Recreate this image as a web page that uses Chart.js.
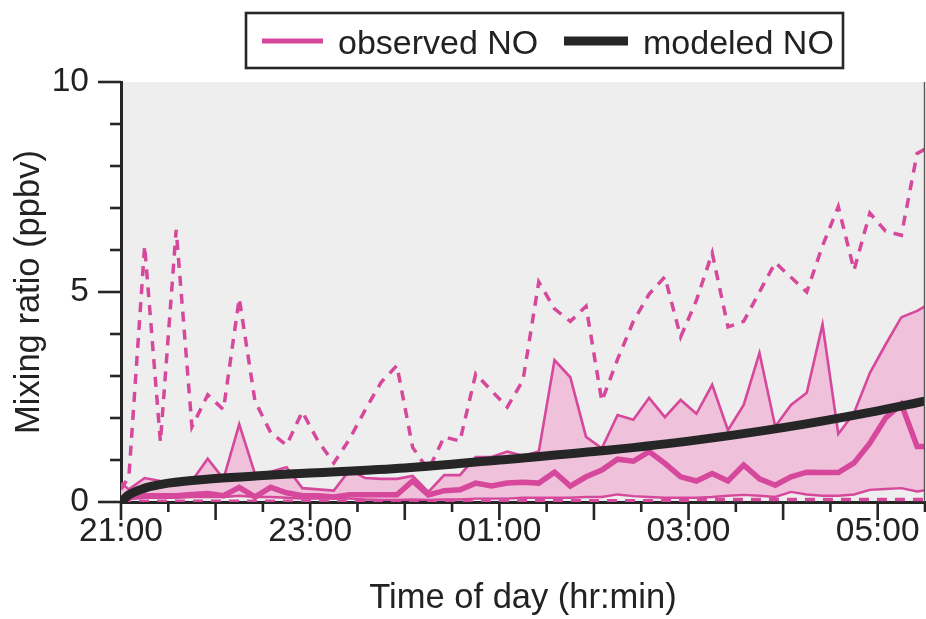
<!DOCTYPE html>
<html><head><meta charset="utf-8">
<script src="https://cdn.jsdelivr.net/npm/chart.js@4.4.1/dist/chart.umd.min.js"></script>
<style>html,body{margin:0;padding:0;background:#fff;overflow:hidden}</style>
</head><body>
<canvas id="c" width="926" height="619"></canvas>
<script>
// ---- data ----
const times = ['21:00','21:05','21:15','21:25','21:35','21:45','21:55',
 '22:05','22:15','22:25','22:35','22:45','22:55',
 '23:05','23:15','23:25','23:35','23:45','23:55',
 '00:05','00:15','00:25','00:35','00:45','00:55',
 '01:05','01:15','01:25','01:35','01:45','01:55',
 '02:05','02:15','02:25','02:35','02:45','02:55',
 '03:05','03:15','03:25','03:35','03:45','03:55',
 '04:05','04:15','04:25','04:35','04:45','04:55',
 '05:05','05:15','05:25','05:30'];
const obsUpperDashed = [0.3,0.6,6.1,1.43,6.48,1.79,2.55,2.2,4.85,2.4,1.65,1.35,2.15,1.45,0.93,1.5,2.2,2.85,3.25,1.3,0.76,1.55,1.45,3.05,2.65,2.26,2.9,5.24,4.6,4.3,4.66,2.4,3.4,4.3,4.95,5.36,3.93,4.8,5.93,4.17,4.3,5.0,5.7,5.35,5.0,6.1,7.03,5.52,6.88,6.45,6.35,8.3,8.4];
const obsUpper = [0.45,0.3,0.57,0.5,0.48,0.5,1.03,0.55,1.85,0.67,0.72,0.83,0.33,0.3,0.27,0.76,0.57,0.55,0.55,0.62,0.24,0.64,0.64,1.07,1.07,1.2,1.1,1.2,3.38,2.97,1.55,1.28,2.07,1.96,2.48,2.02,2.43,2.1,2.79,1.71,2.31,3.55,1.8,2.31,2.6,4.23,1.62,2.12,3.07,3.75,4.4,4.55,4.66];
const obsMedian = [0.05,0.1,0.15,0.15,0.15,0.18,0.2,0.15,0.35,0.12,0.35,0.22,0.15,0.15,0.12,0.17,0.17,0.17,0.17,0.5,0.17,0.27,0.29,0.45,0.38,0.45,0.47,0.45,0.71,0.38,0.6,0.76,1.02,0.97,1.2,0.92,0.6,0.5,0.68,0.5,0.88,0.55,0.4,0.6,0.71,0.7,0.7,0.93,1.4,2.0,2.33,1.32,1.32];
const obsLower = [0.05,0.08,0.1,0.1,0.1,0.12,0.12,0.12,0.15,0.12,0.12,0.1,0.08,0.08,0.08,0.08,0.06,0.05,0.05,0.06,0.05,0.06,0.06,0.08,0.08,0.08,0.1,0.1,0.1,0.1,0.12,0.12,0.18,0.14,0.12,0.1,0.1,0.1,0.12,0.15,0.17,0.15,0.12,0.24,0.18,0.15,0.15,0.18,0.29,0.31,0.33,0.25,0.28];
const obsLowerDashed = [0.02,0.02,0.02,0.02,0.02,0.02,0.02,0.02,0.02,0.02,0.02,0.02,0.02,0.02,0.02,0.02,0.02,0.02,0.02,0.02,0.02,0.02,0.02,0.02,0.02,0.02,0.03,0.03,0.03,0.03,0.03,0.03,0.03,0.03,0.03,0.03,0.03,0.06,0.06,0.06,0.06,0.06,0.06,0.06,0.06,0.06,0.06,0.06,0.06,0.06,0.06,0.06,0.06];
const modelTimes = ['21:00','21:05','21:15','21:30','22:00','22:30','23:00','00:00','01:00','02:00','03:00','04:00','05:00','05:30'];
const modelNO = [0,0.17,0.33,0.45,0.56,0.63,0.69,0.81,1.0,1.2,1.45,1.77,2.17,2.4];
const xTickLabels = ['21:00','23:00','01:00','03:00','05:00'];
const yTickValues = [0,5,10];

// ---- helpers ----
function toHours(s){ const [H,M]=s.split(':').map(Number); return (H>=21?H-21:H+3)+M/60; }
function pts(ts, vals){ return ts.map((t,i)=>({x:toHours(t), y:vals[i]})); }

const MAG = '#d5489b', FILL = '#efc1da', BLK = '#262626', BG = '#edeeed';
const FONT = '"Liberation Sans", Arial, Helvetica, sans-serif';
Chart.defaults.font.family = FONT;
Chart.defaults.color = '#222';

const decor = {
  id:'decor',
  beforeDraw(chart){
    const {ctx, chartArea:a} = chart;
    ctx.save(); ctx.fillStyle = BG; ctx.fillRect(a.left, a.top, a.right-a.left, a.bottom-a.top); ctx.restore();
  },
  afterDraw(chart){
    const {ctx, chartArea:a, scales:{x,y}} = chart;
    ctx.save();
    ctx.strokeStyle = BLK; ctx.lineWidth = 2.6; ctx.lineCap = 'butt';
    for (let i=0;i<=17;i++){
      const v = i*0.5, px = x.getPixelForValue(v), len = (i%2===0)?18:10;
      ctx.beginPath(); ctx.moveTo(px, a.bottom); ctx.lineTo(px, a.bottom+len); ctx.stroke();
    }
    for (let v=0; v<=10; v++){
      const py = y.getPixelForValue(v), len = (v%5===0)?23:11;
      ctx.beginPath(); ctx.moveTo(a.left, py); ctx.lineTo(a.left-len, py); ctx.stroke();
    }
    // right frame
    ctx.strokeStyle = '#555'; ctx.lineWidth = 1.4;
    ctx.beginPath(); ctx.moveTo(a.right-0.5, a.top); ctx.lineTo(a.right-0.5, a.bottom); ctx.stroke();
    // legend
    const ds = chart.data.datasets;
    ctx.fillStyle = '#fff'; ctx.fillRect(246, 13, 597, 55);
    ctx.strokeStyle = BLK; ctx.lineWidth = 2.6; ctx.strokeRect(246, 13, 597, 55);
    ctx.font = '34px ' + FONT; ctx.textBaseline = 'alphabetic'; ctx.textAlign = 'left'; ctx.fillStyle = '#222';
    ctx.strokeStyle = MAG; ctx.lineWidth = 5;
    ctx.beginPath(); ctx.moveTo(262, 41); ctx.lineTo(323, 41); ctx.stroke();
    ctx.fillText(ds[0].label, 338, 53.5);
    ctx.strokeStyle = BLK; ctx.lineWidth = 9;
    ctx.beginPath(); ctx.moveTo(564, 41); ctx.lineTo(628, 41); ctx.stroke();
    ctx.fillText(ds[5].label, 643, 53.5);
    ctx.restore();
  }
};

new Chart(document.getElementById('c'), {
  type:'line',
  data:{ datasets:[
    {label:'observed NO', data:pts(times,obsUpper), borderColor:MAG, borderWidth:2.6, backgroundColor:FILL, fill:1, order:6, tension:0},
    {label:'lower', data:pts(times,obsLower), borderColor:MAG, borderWidth:2.4, fill:false, order:5, tension:0},
    {label:'median', data:pts(times,obsMedian), borderColor:MAG, borderWidth:5.5, fill:false, order:4, tension:0},
    {label:'upper dashed', data:pts(times,obsUpperDashed), borderColor:MAG, borderWidth:3.5, borderDash:[10,8], fill:false, order:3, tension:0},
    {label:'lower dashed', data:pts(times,obsLowerDashed), borderColor:MAG, borderWidth:3.5, borderDash:[10,8], fill:false, order:3, tension:0},
    {label:'modeled NO', data:pts(modelTimes,modelNO), borderColor:BLK, borderWidth:9, fill:false, order:1, cubicInterpolationMode:'monotone'}
  ]},
  options:{
    responsive:false, animation:false, devicePixelRatio:1,
    layout:{padding:{top:82, right:1, left:0, bottom:0}},
    elements:{point:{radius:0}, line:{borderCapStyle:'butt', borderJoinStyle:'miter'}},
    datasets:{line:{clip:0}},
    plugins:{legend:{display:false}, tooltip:{enabled:false}},
    scales:{
      x:{type:'linear', min:0, max:8.5,
        afterBuildTicks(s){ s.ticks = xTickLabels.map(l=>({value:toHours(l)})); },
        afterFit(s){ s.height = 117; },
        ticks:{ autoSkip:false, maxRotation:0, padding:6, font:{size:33.5}, color:'#222',
          callback(v){ const i = xTickLabels.findIndex(l=>Math.abs(toHours(l)-v)<1e-6); return i>=0?xTickLabels[i]:''; } },
        grid:{display:true, drawOnChartArea:false, drawTicks:true, tickLength:4, tickColor:'rgba(0,0,0,0)'},
        border:{display:true, color:BLK, width:3},
        title:{display:true, text:'Time of day (hr:min)', font:{size:34.5}, color:'#222', padding:{top:0,bottom:0}}
      },
      y:{type:'linear', min:0, max:10,
        afterBuildTicks(s){ s.ticks = yTickValues.map(v=>({value:v})); },
        afterFit(s){ s.width = 121; },
        ticks:{ padding:9, font:{size:33.5}, color:'#222' },
        grid:{display:true, drawOnChartArea:false, drawTicks:true, tickLength:23, tickColor:'rgba(0,0,0,0)'},
        border:{display:true, color:BLK, width:3},
        title:{display:true, text:'Mixing ratio (ppbv)', font:{size:34.5}, color:'#222', padding:{top:9,bottom:0}}
      }
    }
  },
  plugins:[decor]
});
</script>
</body></html>
